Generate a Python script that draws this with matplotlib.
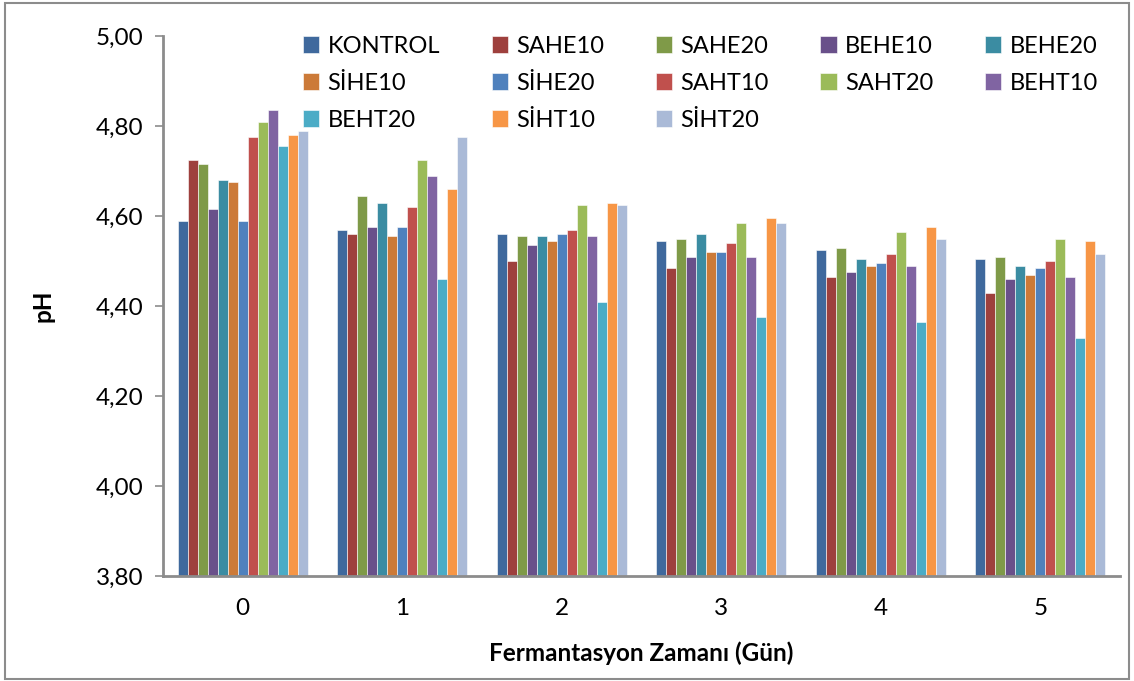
import numpy as np
import matplotlib
matplotlib.use("Agg")
import matplotlib.pyplot as plt
from matplotlib.ticker import FuncFormatter

days = ["0", "1", "2", "3", "4", "5"]
series = ["KONTROL", "SAHE10", "SAHE20", "BEHE10", "BEHE20", "SİHE10", "SİHE20",
          "SAHT10", "SAHT20", "BEHT10", "BEHT20", "SİHT10", "SİHT20"]

kontrol = [4.59, 4.57, 4.56, 4.545, 4.525, 4.505]
sahe10 = [4.725, 4.56, 4.50, 4.485, 4.465, 4.43]
sahe20 = [4.715, 4.645, 4.555, 4.55, 4.53, 4.51]
behe10 = [4.615, 4.575, 4.535, 4.51, 4.475, 4.46]
behe20 = [4.68, 4.63, 4.555, 4.56, 4.505, 4.49]
sihe10 = [4.675, 4.555, 4.545, 4.52, 4.49, 4.47]
sihe20 = [4.59, 4.575, 4.56, 4.52, 4.495, 4.485]
saht10 = [4.775, 4.62, 4.57, 4.54, 4.515, 4.50]
saht20 = [4.81, 4.725, 4.625, 4.585, 4.565, 4.55]
beht10 = [4.835, 4.69, 4.555, 4.51, 4.49, 4.465]
beht20 = [4.755, 4.46, 4.41, 4.375, 4.365, 4.33]
siht10 = [4.78, 4.66, 4.63, 4.595, 4.575, 4.545]
siht20 = [4.79, 4.775, 4.625, 4.585, 4.55, 4.515]

all_values = [kontrol, sahe10, sahe20, behe10, behe20, sihe10, sihe20,
              saht10, saht20, beht10, beht20, siht10, siht20]

colors = ["#3F699D", "#9E403D", "#7F9A48", "#69508A", "#3B8CA2", "#CC7A38", "#4F81BD",
          "#C0504D", "#9BBB59", "#8064A2", "#4BACC6", "#F79646", "#AABAD7"]

plt.rcParams['font.family'] = ['Lato', 'DejaVu Sans']

fig = plt.figure(figsize=[11.34, 6.81], dpi=100)
ax = fig.add_axes([163 / 1134, 1 - 576 / 681, (1120 - 163) / 1134, (576 - 36) / 681])

x = np.arange(len(days))
width = 0.815 / len(series)
for i, (name, vals) in enumerate(zip(series, all_values)):
    offset = (i - (len(series) - 1) / 2) * width
    ax.bar(x + offset, np.array(vals) - 3.8, width, bottom=3.8, color=colors[i],
           edgecolor="white", linewidth=0.4, label=name)

ax.set_xlim(-0.5, len(days) - 0.5)
ax.set_ylim(3.8, 5.0)
ax.set_yticks(np.arange(3.8, 5.01, 0.2))
ax.yaxis.set_major_formatter(FuncFormatter(lambda v, p: f"{v:.2f}".replace(".", ",")))
ax.set_xticks(x)
ax.set_xticklabels(days)
ax.tick_params(axis='x', length=0, pad=16, labelsize=17.5)
ax.tick_params(axis='y', length=6, width=1.2, color="#8C8C8C", labelsize=17.5, pad=8)

for s in ["top", "right"]:
    ax.spines[s].set_visible(False)
for s in ["left", "bottom"]:
    ax.spines[s].set_color("#8C8C8C")
    ax.spines[s].set_linewidth(2)

ax.set_ylabel("pH", fontsize=17.5, fontweight="bold", labelpad=30)
ax.set_xlabel("Fermantasyon Zamanı (Gün)", fontsize=17.5, fontweight="bold", labelpad=16)

# legend reads row by row like the original, matplotlib fills columns first
handles, labels = ax.get_legend_handles_labels()
order = [0, 5, 10, 1, 6, 11, 2, 7, 12, 3, 8, 4, 9]
leg = ax.legend([handles[k] for k in order], [labels[k] for k in order],
                ncol=5, loc="upper left", mode="expand",
                bbox_to_anchor=(0.124, 1.04, 0.875, 0.0), frameon=False,
                fontsize=17, handlelength=0.7, handleheight=0.7, handletextpad=0.35,
                columnspacing=1.5, labelspacing=0.68)

border = plt.Rectangle((0.004, 0.003), 0.992, 0.993, transform=fig.transFigure,
                       fill=False, edgecolor="#8C8C8C", linewidth=1.5)
fig.patches.append(border)

plt.savefig("out.png", dpi=100)
